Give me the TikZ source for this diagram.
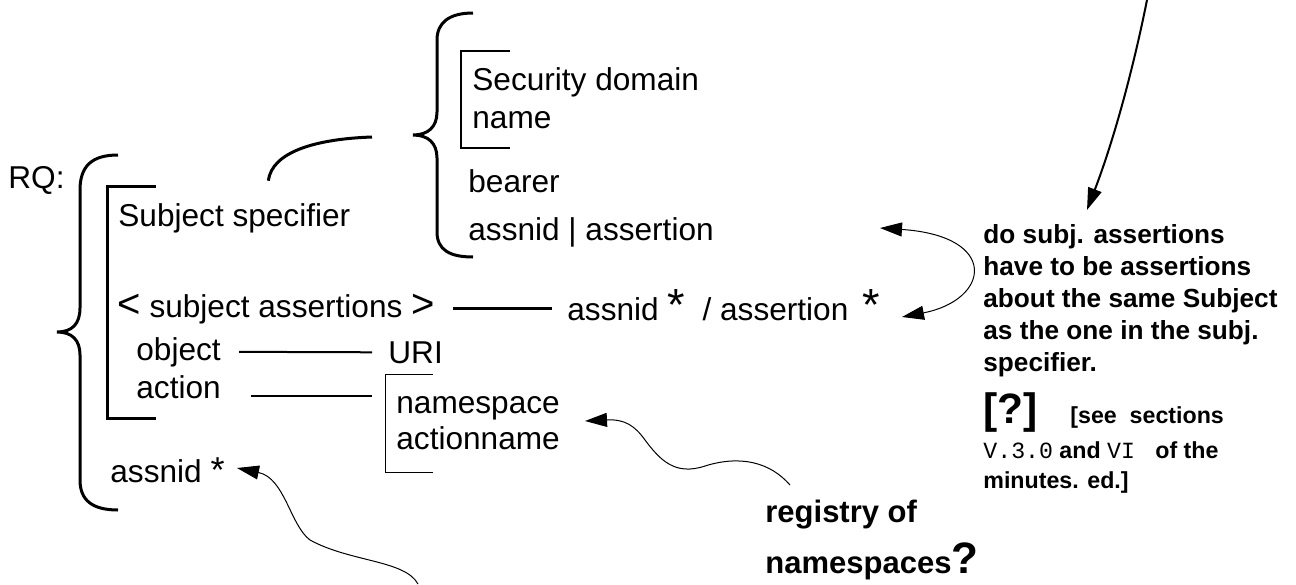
\documentclass[tikz,border=0pt]{standalone}
\usepackage{fontspec}
\setmainfont{Liberation Sans}
\newfontfamily\monofont{Liberation Mono}
\usetikzlibrary{arrows.meta}

\begin{document}
\begin{tikzpicture}[x=0.5pt,y=-0.5pt,
    txt/.style={anchor=base west,inner sep=0pt,font=\fontsize{15.8}{18}\selectfont},
    note/.style={anchor=base west,inner sep=0pt,font=\bfseries\fontsize{13.1}{16}\selectfont},
    smallnote/.style={anchor=base west,inner sep=0pt,font=\bfseries\fontsize{11.6}{14}\selectfont},
    regnote/.style={anchor=base west,inner sep=0pt,font=\bfseries\fontsize{15.5}{18}\selectfont},
    bracestroke/.style={line width=1.5pt},
    medline/.style={line width=1pt},
    thinline/.style={line width=0.5pt},
    arr/.style={-{Triangle[length=11pt,width=7pt]},line width=0.5pt}]
    \useasboundingbox (0,0) rectangle (1296,584);
    % braces and brackets
    \draw[bracestroke] (118,155) .. controls (92,155) and (80,166) .. (80,190) -- (80,308)
      .. controls (80,324) and (72,332) .. (57,332) .. controls (72,332) and (80,340) .. (80,355)
      -- (80,480) .. controls (80,500) and (92,510) .. (118,510);
    \draw[bracestroke] (473,13) .. controls (450,13) and (437,22) .. (437,40) -- (437,112)
      .. controls (437,127) and (428,135) .. (413,135) .. controls (428,135) and (437,143) .. (437,158)
      -- (437,232) .. controls (437,250) and (450,257) .. (473,257);
    \draw[bracestroke] (156,186) -- (107,186) -- (107,418) -- (156,418);
    \draw[line width=1.3pt] (510,51) -- (461,51) -- (461,148) -- (510,148);
    \draw[thinline] (433,374) -- (385,374) -- (385,472) -- (433,472);
    % left part
    \node[txt] (rq) at (8,188) {RQ:};
    \node[txt] (subjspec) at (118,226) {Subject specifier};
    \node[txt] (secdom) at (472,90) {Security domain};
    \node[txt] (secname) at (472,128) {name};
    \node[txt] (bearer) at (468,192) {bearer};
    \node[txt] (assnor) at (468,240) {assnid | assertion};
    \node[txt] (subjass) at (117,317) {{\fontsize{20}{20}\selectfont<} subject assertions {\fontsize{20}{20}\selectfont>}};
    \node[txt] (assnrow) at (567,320) {assnid {\fontsize{22.5}{20}\selectfont*}\ \ / assertion\ \,{\fontsize{22.5}{20}\selectfont*}};
    \node[txt] (object) at (136,360) {object};
    \node[txt] (action) at (136,398) {action};
    \node[txt] (uri) at (388,363) {URI};
    \node[txt] (nspace) at (396,413) {namespace};
    \node[txt] (actname) at (396,449) {actionname};
    \node[txt] (assnid) at (110,482) {assnid {\fontsize{18}{18}\selectfont*}};
    \coordinate (brtip) at (413,135);
    \draw[bracestroke] ([xshift=17pt,yshift=11pt]subjspec.north) .. controls (272,152) and (315,139) .. ([xshift=-20.5pt,yshift=-1pt]brtip);
    \draw[line width=1.2pt] ([xshift=9pt]subjass.east) -- ([xshift=-7.5pt]subjass.east -| assnrow.west);
    \draw[medline] ([xshift=9pt]object.east) -- ([xshift=-8pt]uri.west);
    \draw[medline] ([xshift=15pt,yshift=1pt]action.base east) -- ([xshift=-8pt,yshift=1pt]action.base east -| uri.west);
    % right notes
    \node[note] (q1) at (983,243) {do subj. assertions};
    \node[note] (q2) at (983,275) {have to be assertions};
    \node[note] (q3) at (983,307) {about the same Subject};
    \node[note] (q4) at (983,339) {as the one in the subj.};
    \node[note] (q5) at (983,371) {specifier.};
    \node[note,font=\bfseries\fontsize{21.25}{22}\selectfont] (qmark) at (983,423) {[?]};
    \node[smallnote] (see) at (1070,423) {[see\ \ sections};
    \node[smallnote] (sect) at (983,458) {{\mdseries\monofont V.3.0} and {\mdseries\monofont VI\ } of the};
    \node[smallnote] (mins) at (983,488) {minutes. ed.]};
    \node[regnote] (registry) at (765,522) {registry of};
    \node[regnote] (regns) at (765,573) {namespaces{\fontsize{22}{22}\selectfont?}};
    % arrows
    \coordinate (topfree) at (1147,0);
    \coordinate (qtip) at (1087,210);
    \draw[arr,line width=1pt] (topfree) .. controls (1132,75) and (1112,145) .. (qtip);
    \coordinate (ortip) at (880,228);
    \coordinate (startip) at (902,317);
    \draw[arr,{Triangle[length=11pt,width=7pt]}-{Triangle[length=11pt,width=7pt]}] (ortip) .. controls (1000,236) and (990,300) .. (startip);
    \coordinate (botfree) at (418,584);
    \coordinate (astip) at (237,468);
    \draw[arr] (botfree) .. controls (405,560) and (350,562) .. (310,540) .. controls (290,525) and (285,478) .. (astip);
    \coordinate (regfree) at (790,485);
    \coordinate (nstip) at (585,421);
    \draw[arr] (regfree) .. controls (770,462) and (740,455) .. (705,466) .. controls (675,476) and (660,460) .. (645,440) .. controls (635,426) and (625,419) .. (nstip);
\end{tikzpicture}
\end{document}
